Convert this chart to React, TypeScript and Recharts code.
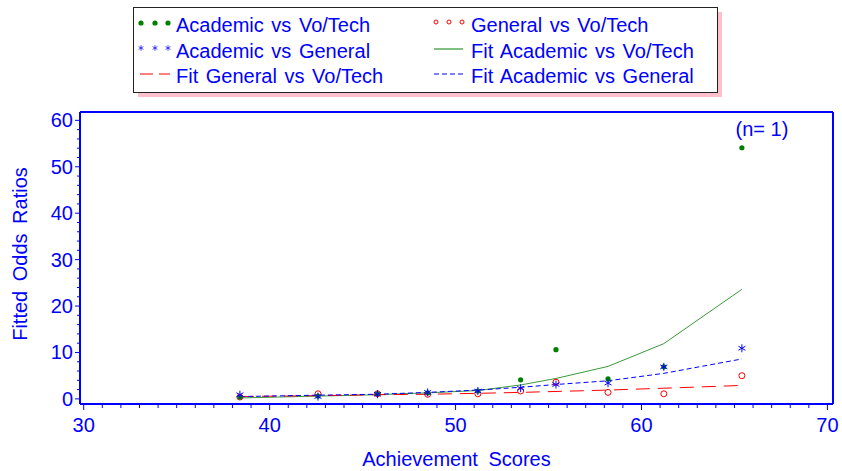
import React from 'react';
import { ComposedChart, XAxis, YAxis, Line, Scatter, ReferenceLine, ReferenceDot } from 'recharts';

const scores = [38.4, 42.6, 45.8, 48.5, 51.2, 53.5, 55.4, 58.2, 61.2, 65.4];
const acadVoc = [0.4, 0.6, 1.1, 1.3, 1.7, 4.1, 10.6, 4.3, 6.9, 54.1];
const genVoc = [0.4, 1.1, 1.1, 1.0, 1.1, 1.7, 3.6, 1.4, 1.1, 5.0];
const acadGen = [0.9, 0.5, 1.0, 1.4, 1.7, 2.3, 3.1, 3.4, 6.9, 10.9];
const fitAcadVoc = [0.2, 0.6, 0.9, 1.3, 1.8, 3.0, 4.4, 7.0, 11.9, 23.6];
const fitGenVoc = [0.5, 0.7, 0.9, 1.0, 1.2, 1.4, 1.6, 1.9, 2.3, 2.9];
const fitAcadGen = [0.5, 0.8, 1.0, 1.4, 1.9, 2.5, 3.1, 3.9, 5.5, 8.6];

const xTicks = [30, 31, 32, 33, 34, 35, 36, 37, 38, 39, 40, 41, 42, 43, 44, 45, 46, 47, 48, 49, 50,
  51, 52, 53, 54, 55, 56, 57, 58, 59, 60, 61, 62, 63, 64, 65, 66, 67, 68, 69, 70];
const yTicks = [0, 2, 4, 6, 8, 10, 12, 14, 16, 18, 20, 22, 24, 26, 28, 30, 32, 34, 36, 38, 40,
  42, 44, 46, 48, 50, 52, 54, 56, 58, 60];

const data = scores.map((x, i) => ({
  x,
  acadVoc: acadVoc[i],
  genVoc: genVoc[i],
  acadGen: acadGen[i],
  fitAcadVoc: fitAcadVoc[i],
  fitGenVoc: fitGenVoc[i],
  fitAcadGen: fitAcadGen[i],
}));

const BLUE = '#0000ff';
const GREEN = '#008000';
const RED = '#ff0000';
const FONT = '"Liberation Sans", Arial, sans-serif';

function XTick({ x, y, payload }: any) {
  const major = payload.value % 10 === 0;
  return (
    <g>
      <line x1={x} x2={x} y1={y} y2={y + (major ? 6 : 4)} stroke={BLUE} strokeWidth={1} />
      {major && (
        <text x={x} y={y + 21} textAnchor="middle" dominantBaseline="central" fill={BLUE}
          fontSize={20} fontFamily={FONT}>{payload.value}</text>
      )}
    </g>
  );
}

function YTick({ x, y, payload }: any) {
  const major = payload.value % 10 === 0;
  return (
    <g>
      <line x1={x} x2={x - (major ? 5 : 3)} y1={y} y2={y} stroke={BLUE} strokeWidth={1} />
      {major && (
        <text x={x - 7} y={y} textAnchor="end" dominantBaseline="central" fill={BLUE}
          fontSize={20} fontFamily={FONT}>{payload.value}</text>
      )}
    </g>
  );
}

const Dot = ({ cx, cy }: any) => <circle cx={cx} cy={cy} r={2.6} fill={GREEN} />;
const Ring = ({ cx, cy }: any) => <circle cx={cx} cy={cy} r={3} fill="none" stroke={RED} strokeWidth={1} />;
const Star = ({ cx, cy }: any) => {
  const r = 4;
  return (
    <g stroke={BLUE} strokeWidth={1}>
      <line x1={cx} y1={cy - r} x2={cx} y2={cy + r} />
      <line x1={cx - r * 0.87} y1={cy - r / 2} x2={cx + r * 0.87} y2={cy + r / 2} />
      <line x1={cx - r * 0.87} y1={cy + r / 2} x2={cx + r * 0.87} y2={cy - r / 2} />
    </g>
  );
};

function LegendBox() {
  const t = (x: number, y: number, s: string) => (
    <text x={x} y={y} dominantBaseline="central" fill={BLUE} fontSize={20} fontFamily={FONT}
      style={{ wordSpacing: 2 }}>{s}</text>
  );
  const c1 = [141, 155, 168];
  const c2 = [436, 449, 462];
  return (
    <svg width={842} height={100} style={{ position: 'absolute', left: 0, top: 0 }}>
      <rect x={138} y={12} width={584} height={85} fill="#ffc0cb" />
      <rect x={133.5} y={7.5} width={584} height={85} fill="#fff" stroke="#222" strokeWidth={1} />
      {c1.map((cx) => <Dot key={cx} cx={cx} cy={23} />)}
      {t(176, 25, 'Academic vs Vo/Tech')}
      {c2.map((cx) => <circle key={cx} cx={cx} cy={22} r={2} fill="none" stroke={RED} />)}
      {t(471, 25, 'General vs Vo/Tech')}
      {c1.map((cx) => (
        <g key={cx} transform={`translate(${cx},48) scale(0.7) translate(${-cx},-48)`}><Star cx={cx} cy={48} /></g>
      ))}
      {t(176, 51, 'Academic vs General')}
      <line x1={434} x2={463} y1={49} y2={49} stroke={GREEN} strokeWidth={1} />
      {t(471, 51, 'Fit Academic vs Vo/Tech')}
      <line x1={140} x2={170} y1={74} y2={74} stroke={RED} strokeWidth={1} strokeDasharray="13 6" />
      {t(176, 76, 'Fit General vs Vo/Tech')}
      <line x1={434} x2={463} y1={74} y2={74} stroke={BLUE} strokeWidth={1} strokeDasharray="5 3" />
      {t(471, 76, 'Fit Academic vs General')}
    </svg>
  );
}

export default function App() {
  return (
    <div style={{ position: 'absolute', left: 0, top: 0, width: 842, height: 471, background: '#fff' }}>
      <ComposedChart width={842} height={471} data={data}
        margin={{ top: 112, right: 9, left: 20, bottom: 17 }}>
        <XAxis dataKey="x" type="number" domain={[29.8, 70.3]} ticks={xTicks} interval={0}
          tick={<XTick />} tickSize={0} tickMargin={0} tickLine={false}
          axisLine={{ stroke: BLUE, strokeWidth: 2 }} height={50}
          label={{
            content: ({ viewBox }: any) => (
              <text x={viewBox.x + viewBox.width / 2} y={viewBox.y + 55} textAnchor="middle"
                dominantBaseline="central" fill={BLUE} fontSize={20} fontFamily={FONT}
                style={{ wordSpacing: 5 }}>Achievement Scores</text>
            ),
          }} />
        <YAxis type="number" domain={[-1.1, 61.8]} ticks={yTicks} interval={0}
          tick={<YTick />} tickSize={0} tickMargin={0} tickLine={false}
          axisLine={{ stroke: BLUE, strokeWidth: 2 }} width={60}
          label={{
            content: ({ viewBox }: any) => {
              const cx = viewBox.x;
              const cy = viewBox.y + viewBox.height / 2 - 4;
              return (
                <text x={cx} y={cy} textAnchor="middle" dominantBaseline="central" fill={BLUE}
                  fontSize={20} fontFamily={FONT} style={{ wordSpacing: 4 }}
                  transform={`rotate(-90, ${cx}, ${cy})`}>Fitted Odds Ratios</text>
              );
            },
          }} />
        <ReferenceLine y={61.8} stroke={BLUE} strokeWidth={2} />
        <ReferenceLine x={70.3} stroke={BLUE} strokeWidth={2} />
        <Line dataKey="fitAcadVoc" type="linear" stroke="#3a9a3a" strokeWidth={1} dot={false}
          isAnimationActive={false} />
        <Line dataKey="fitGenVoc" type="linear" stroke={RED} strokeWidth={1} strokeDasharray="14 8"
          dot={false} isAnimationActive={false} />
        <Line dataKey="fitAcadGen" type="linear" stroke={BLUE} strokeWidth={1} strokeDasharray="5 3"
          dot={false} isAnimationActive={false} />
        <Scatter dataKey="genVoc" shape={<Ring />} isAnimationActive={false} />
        <Scatter dataKey="acadVoc" shape={<Dot />} isAnimationActive={false} />
        <Scatter dataKey="acadGen" shape={<Star />} isAnimationActive={false} />
        <ReferenceDot x={65.4} y={54.1} r={0} stroke="none"
          label={{
            content: ({ viewBox }: any) => (
              <text x={viewBox.x + 20} y={viewBox.y - 19} textAnchor="middle" dominantBaseline="central"
                fill={BLUE} fontSize={20} fontFamily={FONT}>(n= 1)</text>
            ),
          }} />
      </ComposedChart>
      <LegendBox />
    </div>
  );
}
